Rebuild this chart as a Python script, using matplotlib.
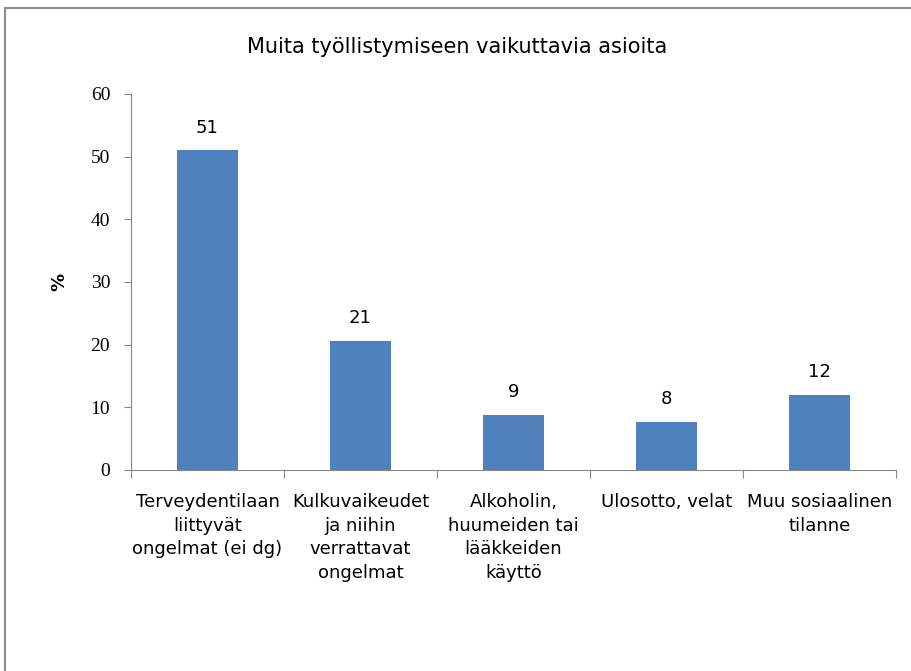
import matplotlib
matplotlib.use("Agg")
import matplotlib.pyplot as plt
from matplotlib.patches import Rectangle

categories = [
    "Terveydentilaan\nliittyvät\nongelmat (ei dg)",
    "Kulkuvaikeudet\nja niihin\nverrattavat\nongelmat",
    "Alkoholin,\nhuumeiden tai\nlääkkeiden\nkäyttö",
    "Ulosotto, velat",
    "Muu sosiaalinen\ntilanne",
]
values = [51.0, 20.6, 8.8, 7.7, 12.0]
value_labels = ["51", "21", "9", "8", "12"]
y_ticks = [0, 10, 20, 30, 40, 50, 60]

plt.rcParams['font.family'] = ['DejaVu Sans']

fig = plt.figure(figsize=(9.11, 6.71), dpi=100)
ax = fig.add_axes([0.1438, 0.2996, 0.8397, 0.5604])

# kehys koko kuvan ympärille
fig.patches.append(Rectangle((0.006, -0.01), 1.0, 0.998, transform=fig.transFigure,
                             fill=False, edgecolor="#8c8c8c", linewidth=1.5))

x = list(range(len(categories)))
ax.bar(x, values, width=0.4, color="#4F81BD")

for xi, v, lab in zip(x, values, value_labels):
    ax.text(xi, v + 2.2, lab, ha="center", va="bottom", fontsize=13)

ax.set_xlim(-0.5, len(categories) - 0.5)
ax.set_ylim(0, 60)
ax.set_yticks(y_ticks)
ax.set_yticklabels([str(t) for t in y_ticks], fontsize=14, family="Liberation Serif")
ax.tick_params(axis="y", direction="out", length=5, color="#888888", pad=10)

ax.set_xticks([i + 0.5 for i in range(-1, len(categories))], minor=False)
ax.set_xticklabels([])
ax.tick_params(axis="x", direction="out", length=6, color="#888888")
for xi, cat in zip(x, categories):
    ax.text(xi, -3.7, cat, ha="center", va="top", fontsize=13, linespacing=1.4)

for side in ["top", "right"]:
    ax.spines[side].set_visible(False)
ax.spines["left"].set_color("#888888")
ax.spines["bottom"].set_color("#888888")

ax.set_ylabel("%", fontsize=13, fontweight="bold", labelpad=16)
fig.text(0.502, 0.93, "Muita työllistymiseen vaikuttavia asioita", ha="center", va="center",
         fontsize=15)

fig.savefig("out.png", dpi=100)
